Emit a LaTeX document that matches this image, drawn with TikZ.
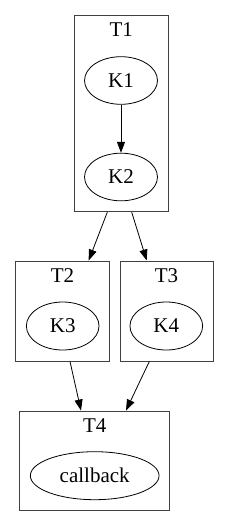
\documentclass[tikz,border=0pt]{standalone}
\usepackage{fontspec}
\setmainfont{Liberation Serif}
\usetikzlibrary{shapes.geometric,arrows.meta,calc}
\begin{document}
\begin{tikzpicture}[x=1pt,y=-1pt,
  cluster/.style={draw=black!75,line width=1pt,rectangle,inner sep=0pt},
  knode/.style={draw,ellipse,line width=0.8pt,inner sep=0pt,font=\fontsize{21}{23}\selectfont},
  lbl/.style={inner sep=0pt,font=\fontsize{21}{23}\selectfont},
  edge/.style={line width=0.8pt,-{Triangle[length=11pt,width=8pt]}}]
\useasboundingbox (0,0) rectangle (229,527);
% clusters
\node[cluster,minimum width=94pt,minimum height=196.4pt] (T1) at (121.3,113.5) {};
\node[cluster,minimum width=94pt,minimum height=100pt] (T2) at (62.3,311) {};
\node[cluster,minimum width=93.3pt,minimum height=100pt] (T3) at (166.7,311) {};
\node[cluster,minimum width=149.6pt,minimum height=99.7pt] (T4) at (94.5,460.9) {};
% labels
\node[lbl] (lT1) at (121.3,30) {T1};
\node[lbl] (lT2) at (62.5,276) {T2};
\node[lbl] (lT3) at (166.5,276) {T3};
\node[lbl] (lT4) at (94.7,426) {T4};
% inner nodes
\node[knode,minimum width=73pt,minimum height=47.6pt] (K1) at (121,80.5) {K1};
\node[knode,minimum width=73pt,minimum height=47.6pt] (K2) at (121,177) {K2};
\node[knode,minimum width=72.7pt,minimum height=48pt] (K3) at (62.7,326) {K3};
\node[knode,minimum width=72.7pt,minimum height=48pt] (K4) at (166.3,326) {K4};
\node[knode,minimum width=128.7pt,minimum height=48pt] (cb) at (94.7,475.7) {callback};
% edges
\draw[edge] (K1) -- (K2);
\draw[edge] ($(T1.south)+(-14,0)$) -- ($(T2.north)+(26.4,0)$);
\draw[edge] ($(T1.south)+(10.4,0)$) -- ($(T3.north)+(-20,0)$);
\draw[edge] ($(T2.south)+(7.7,0)$) -- ($(T4.north)+(-13.5,0)$);
\draw[edge] ($(T3.south)+(-17.4,0)$) -- ($(T4.north)+(31.5,0)$);
\end{tikzpicture}
\end{document}
